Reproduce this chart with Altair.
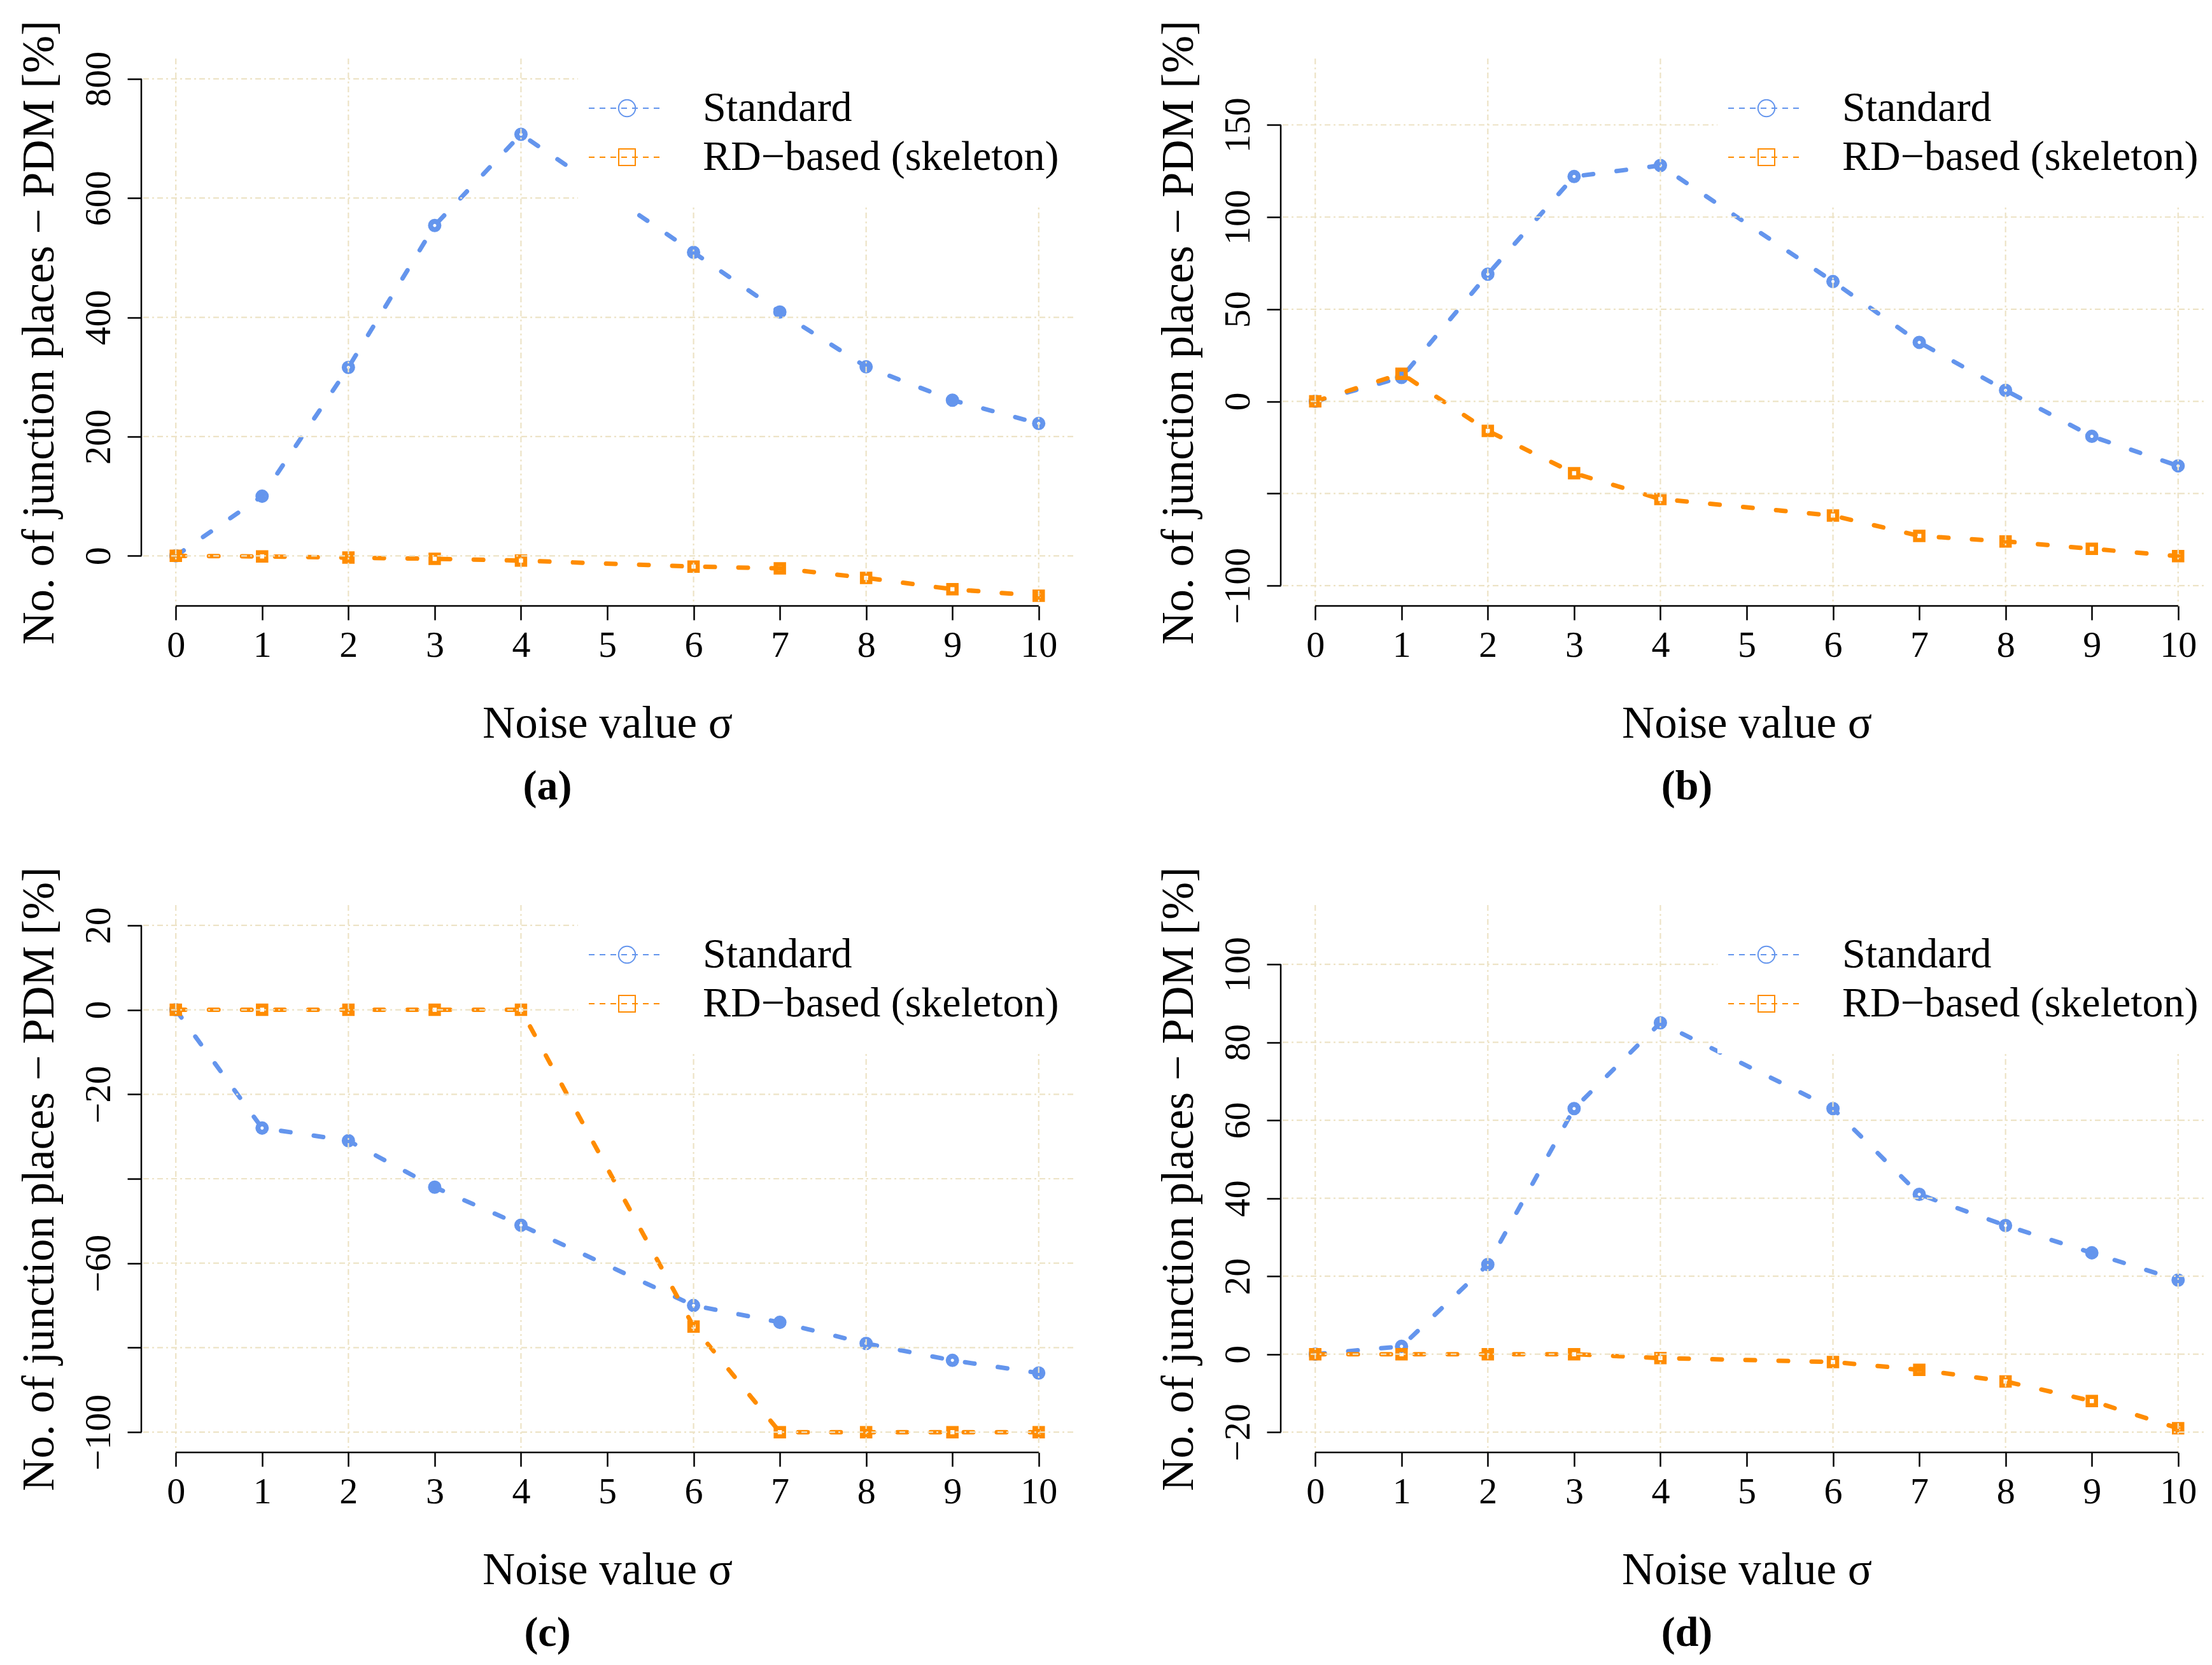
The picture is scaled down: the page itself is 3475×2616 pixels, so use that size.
import altair as alt
import pandas as pd

# ---------------- data ----------------
sigma = [0, 1, 2, 3, 4, 6, 7, 8, 9, 10]
x_ticks = [0, 1, 2, 3, 4, 5, 6, 7, 8, 9, 10]
x_grid = [0, 2, 4, 6, 8, 10]

series_names = ["Standard", "RD−based (skeleton)"]
series_colors = ["#6495ED", "#FF8C00"]
series_shapes = ["circle", "square"]

a_standard = [0, 100, 316, 554, 707, 509, 409, 317, 261, 222]
a_rd = [0, -1, -3, -5, -8, -18, -21, -37, -56, -67]
b_standard = [0, 13, 69, 122, 128, 65, 32, 6, -19, -35]
b_rd = [0, 15, -16, -39, -53, -62, -73, -76, -80, -84]
c_standard = [0, -28, -31, -42, -51, -70, -74, -79, -83, -86]
c_rd = [0, 0, 0, 0, 0, -75, -100, -100, -100, -100]
d_standard = [0, 2, 23, 63, 85, 63, 41, 33, 26, 19]
d_rd = [0, 0, 0, 0, -1, -2, -4, -7, -12, -19]

a_ydomain = [-84, 834]
b_ydomain = [-111, 186]
c_ydomain = [-104.8, 24.8]
d_ydomain = [-25.2, 115.2]
a_yticks = [0, 200, 400, 600, 800]
b_yticks = [-100, -50, 0, 50, 100, 150]
c_yticks = [-100, -80, -60, -40, -20, 0, 20]
d_yticks = [-20, 0, 20, 40, 60, 80, 100]
a_hidden = []
b_hidden = [-50]
c_hidden = [-80, -40]
d_hidden = []
captions = ["(a)", "(b)", "(c)", "(d)"]

x_title = "Noise value σ"
y_title = "No. of junction places − PDM [%]"

# ---------------- style ----------------
W, H = 1464, 860
FONT = "Liberation Serif"
GRID = "#EDE3C6"
GRID_DASH = [9, 5, 3, 5]


def panel(std, rd, ydom, yticks, hidden, caption):
    xs = alt.Scale(domain=[-0.4, 10.4], nice=False, zero=False)
    ys = alt.Scale(domain=ydom, nice=False, zero=False)
    hidden_js = "[" + ",".join(str(v) for v in hidden) + "]"
    xaxis = alt.Axis(
        values=x_ticks, title=x_title, domain=False, grid=False,
        ticks=True, tickSize=22, tickWidth=2.5, tickColor="black",
        labelFont=FONT, labelFontSize=58, labelColor="black", labelPadding=11,
        labelFlush=False, labelOverlap=False,
        titleFont=FONT, titleFontSize=71, titleFontWeight="normal", titleColor="black",
        titleBaseline="alphabetic", titleAlign="center", titleX=W / 2, titleY=206,
    )
    yaxis = alt.Axis(
        values=yticks, title=y_title, domain=False, grid=False,
        ticks=True, tickSize=22, tickWidth=2.5, tickColor="black",
        labelFont=FONT, labelFontSize=58, labelColor="black", labelPadding=28,
        labelAngle=270, labelAlign="center", labelBaseline="alphabetic",
        labelFlush=False, labelOverlap=False,
        labelExpr=f"indexof({hidden_js}, datum.value) >= 0 ? '' : replace(datum.label, '-', '−')",
        titleFont=FONT, titleFontSize=71, titleFontWeight="normal", titleColor="black",
        titleAngle=270, titleBaseline="alphabetic", titleAlign="center",
        titleX=-139, titleY=H / 2,
    )
    X = alt.X("sigma:Q", scale=xs, axis=xaxis)
    Y = alt.Y("value:Q", scale=ys, axis=yaxis)

    layers = []
    for vals, color, shape, size, sw in [
        (std, series_colors[0], series_shapes[0], 170, 8),
        (rd, series_colors[1], series_shapes[1], 169, 6.5),
    ]:
        df = pd.DataFrame({"sigma": sigma, "value": vals})
        layers.append(
            alt.Chart(df).mark_line(color=color, strokeWidth=7, strokeDash=[15, 37],
                                    strokeCap="round").encode(x=X, y=Y)
        )
        layers.append(
            alt.Chart(df).mark_point(shape=shape, filled=False, color=color, size=size,
                                     strokeWidth=sw, opacity=1).encode(x=X, y=Y)
        )

    # grid (drawn above the data, as in the original)
    layers.append(
        alt.Chart(pd.DataFrame({"sigma": x_grid})).mark_rule(
            color=GRID, strokeWidth=2.2, strokeDash=GRID_DASH).encode(x=X)
    )
    layers.append(
        alt.Chart(pd.DataFrame({"value": yticks})).mark_rule(
            color=GRID, strokeWidth=2.2, strokeDash=GRID_DASH).encode(y=Y)
    )

    # R-style axis lines spanning first..last tick
    layers.append(
        alt.Chart(pd.DataFrame({"sigma": [x_ticks[0]], "sigma2": [x_ticks[-1]], "value": [ydom[0]]}))
        .mark_rule(color="black", strokeWidth=2.5)
        .encode(x=X, x2="sigma2:Q", y=Y)
    )
    layers.append(
        alt.Chart(pd.DataFrame({"sigma": [-0.4], "value": [yticks[0]], "value2": [yticks[-1]]}))
        .mark_rule(color="black", strokeWidth=2.5)
        .encode(x=X, y=Y, y2="value2:Q")
    )

    # legend (white background box, dashed line + open symbol, label)
    layers.append(
        alt.Chart(pd.DataFrame({"k": [0]})).mark_rect(color="white").encode(
            x=alt.value(686), x2=alt.value(W + 3), y=alt.value(-3), y2=alt.value(233))
    )
    for i, (name, color, shape, lsize) in enumerate(
        zip(series_names, series_colors, series_shapes, [700, 676])
    ):
        yy = 78 + 77 * i
        ldf = pd.DataFrame({"label": [name]})
        layers.append(
            alt.Chart(ldf).mark_rule(color=color, strokeWidth=2, strokeDash=[9, 8]).encode(
                x=alt.value(703), x2=alt.value(821), y=alt.value(yy))
        )
        layers.append(
            alt.Chart(ldf).mark_point(shape=shape, filled=False, color=color, size=lsize,
                                      strokeWidth=2, opacity=1).encode(
                x=alt.value(763), y=alt.value(yy))
        )
        layers.append(
            alt.Chart(ldf).mark_text(align="left", baseline="middle", font=FONT, fontSize=66,
                                     color="black").encode(
                x=alt.value(882), y=alt.value(yy), text="label:N")
        )

    # panel caption
    layers.append(
        alt.Chart(pd.DataFrame({"label": [caption]})).mark_text(
            font=FONT, fontSize=66, fontWeight="bold", align="center",
            baseline="alphabetic", color="black").encode(
            x=alt.value(638), y=alt.value(1164), text="label:N")
    )

    return alt.layer(*layers).properties(width=W, height=H)


pa = panel(a_standard, a_rd, a_ydomain, a_yticks, a_hidden, captions[0])
pb = panel(b_standard, b_rd, b_ydomain, b_yticks, b_hidden, captions[1])
pc = panel(c_standard, c_rd, c_ydomain, c_yticks, c_hidden, captions[2])
pd_ = panel(d_standard, d_rd, d_ydomain, d_yticks, d_hidden, captions[3])

chart = (
    alt.concat(pa, pb, pc, pd_, columns=2, spacing={"row": 470, "column": 326}, bounds="flush")
    .properties(
        padding={"left": 214, "top": 84, "right": 3245, "bottom": 2516},
        autosize=alt.AutoSizeParams(type="none"),
        background="white",
    )
    .configure_view(stroke=None)
)

chart.save("out.html", embed_options={"renderer": "svg", "actions": False})
